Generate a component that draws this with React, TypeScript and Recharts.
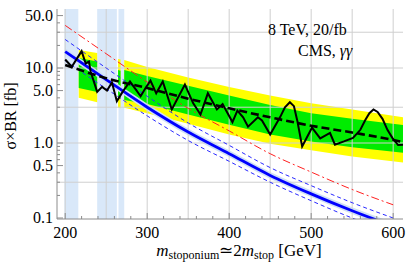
import React from 'react';
import { ComposedChart, XAxis, YAxis, Line, Area, ReferenceArea, ReferenceLine } from 'recharts';

// ---- axes / ticks ----
const xMajorTicks = [200, 300, 400, 500, 600];
const xAllTicks = [200, 220, 240, 260, 280, 300, 320, 340, 360, 380, 400, 420, 440, 460, 480, 500, 520, 540, 560, 580, 600];
const yMajorTicks = [0.1, 0.5, 1, 5, 10, 50];
const yMajorLabels = ['0.1', '0.5', '1.0', '5.0', '10.0', '50.0'];
const yAllTicks = [0.1, 0.2, 0.3, 0.4, 0.5, 0.6, 0.7, 0.8, 0.9, 1, 2, 3, 4, 5, 6, 7, 8, 9, 10, 20, 30, 40, 50];
const xGridValues = [200, 250, 300, 350, 400, 450, 500, 550, 600];
const yGridValues = [0.3, 1, 3, 10, 30];

// ---- excluded mass windows (light blue) ----
const excludedLo = [199, 239, 265];
const excludedHi = [216, 263, 272];

// ---- observed limit ----
const obsMass = [200, 208, 220, 225, 229, 231, 239, 245, 251, 257, 263, 270, 279, 286, 292, 298, 304, 311, 319, 330, 346, 356, 365, 374, 385, 392, 404, 410, 417, 423, 435, 440, 450, 462, 468, 474, 479, 483, 489, 501, 511, 523, 529, 540, 551, 560, 566, 571, 576, 581, 587, 593, 599, 606, 612];
const obsLimit = [13.0, 10.4, 16.8, 11.5, 12.2, 9.0, 4.8, 5.6, 5.0, 6.4, 3.6, 4.8, 6.6, 5.2, 4.2, 5.4, 6.8, 4.6, 6.6, 2.8, 6.0, 3.4, 2.4, 4.6, 2.8, 3.3, 1.9, 2.7, 2.2, 1.65, 2.2, 2.0, 1.3, 2.2, 3.0, 3.5, 3.1, 2.0, 0.9, 1.6, 1.15, 1.36, 0.95, 1.05, 1.17, 1.5, 2.03, 2.5, 2.8, 2.6, 2.1, 1.5, 1.17, 0.94, 0.95];

// ---- expected (median) limit ----
const expMass = [200, 250, 300, 350, 400, 450, 500, 550, 600, 612];
const expLimit = [11.0, 7.3, 5.4, 3.9, 2.9, 2.2, 1.7, 1.38, 1.1, 1.03];

// ---- expected bands, three segments ----
const seg1Mass = [216.5, 239];
const seg1YellowHi = [17.4, 15.9];
const seg1GreenHi = [13.6, 12.2];
const seg1GreenLo = [5.4, 4.8];
const seg1YellowLo = [4.0, 3.5];

const seg2Mass = [264.5, 267.5];
const seg2YellowHi = [13.2, 13.0];
const seg2GreenHi = [9.4, 9.2];
const seg2GreenLo = [4.0, 3.95];
const seg2YellowLo = [2.95, 2.9];

const seg3Mass = [272, 300, 350, 400, 450, 500, 550, 612];
const seg3YellowHi = [12.8, 10.3, 7.5, 5.6, 4.3, 3.4, 2.8, 2.2];
const seg3GreenHi = [9.4, 7.8, 5.8, 4.3, 3.2, 2.5, 2.1, 1.74];
const seg3GreenLo = [3.74, 3.3, 2.4, 1.75, 1.3, 1.05, 0.88, 0.74];
const seg3YellowLo = [2.95, 2.5, 1.8, 1.3, 0.98, 0.8, 0.66, 0.55];

// ---- theory predictions ----
const thMass = [200, 250, 300, 350, 400, 450, 500, 550, 600];
const thCentral = [16.5, 7.0, 3.0, 1.4, 0.72, 0.37, 0.21, 0.125, 0.078];
const thBandHi = [18.3, 7.8, 3.35, 1.56, 0.8, 0.41, 0.233, 0.139, 0.087];
const thBandLo = [14.8, 6.3, 2.7, 1.26, 0.65, 0.334, 0.19, 0.113, 0.07];
const thUpperDashed = [24, 10, 4.2, 1.85, 0.93, 0.47, 0.27, 0.16, 0.1];
const thLowerDashed = [12.5, 5.3, 2.3, 1.08, 0.57, 0.3, 0.17, 0.1, 0.063];
const thRed = [37, 15.5, 6.5, 2.9, 1.45, 0.72, 0.41, 0.24, 0.15];

// ---- tables built from the arrays ----
const obsData = obsMass.map((m, i) => ({ x: m, y: obsLimit[i] }));
const expData = expMass.map((m, i) => ({ x: m, y: expLimit[i] }));
const mkSeg = (mass: number[], yh: number[], gh: number[], gl: number[], yl: number[]) =>
  mass.map((m, i) => ({ x: m, yellow: [yl[i], yh[i]], green: [gl[i], gh[i]] }));
const seg1 = mkSeg(seg1Mass, seg1YellowHi, seg1GreenHi, seg1GreenLo, seg1YellowLo);
const seg2 = mkSeg(seg2Mass, seg2YellowHi, seg2GreenHi, seg2GreenLo, seg2YellowLo);
const seg3 = mkSeg(seg3Mass, seg3YellowHi, seg3GreenHi, seg3GreenLo, seg3YellowLo);
const thData = thMass.map((m, i) => ({
  x: m,
  c: thCentral[i],
  band: [thBandLo[i], thBandHi[i]],
  up: thUpperDashed[i],
  lo: thLowerDashed[i],
  red: thRed[i],
}));

const FRAME = '#8c8c8c';
const GRID = '#cfcfcf';
const FONT = "'Liberation Serif', 'Times New Roman', serif";
const LIGHTBLUE = '#d9e8f9';
const textStyle = { fontFamily: FONT };

const XTickBottom = (props: any) => {
  const { x, y, payload } = props;
  const major = xMajorTicks.includes(payload.value);
  return (
    <g>
      <line x1={x} x2={x} y1={y} y2={y - (major ? 6 : 3)} stroke={FRAME} />
      {major && (
        <text x={x} y={y + 19} textAnchor="middle" fontSize={16} style={textStyle} fill="#000">
          {payload.value}
        </text>
      )}
    </g>
  );
};
const XTickTop = (props: any) => {
  const { x, y, payload } = props;
  const major = xMajorTicks.includes(payload.value);
  return <line x1={x} x2={x} y1={y} y2={y + (major ? 6 : 3)} stroke={FRAME} />;
};
const YTickLeft = (props: any) => {
  const { x, y, payload } = props;
  const i = yMajorTicks.indexOf(payload.value);
  return (
    <g>
      <line x1={x} x2={x + (i >= 0 ? 6 : 3)} y1={y} y2={y} stroke={FRAME} />
      {i >= 0 && (
        <text x={x - 4} y={y + 5} textAnchor="end" fontSize={16} style={textStyle} fill="#000">
          {yMajorLabels[i]}
        </text>
      )}
    </g>
  );
};
const YTickRight = (props: any) => {
  const { x, y, payload } = props;
  const major = yMajorTicks.includes(payload.value);
  return <line x1={x} x2={x - (major ? 6 : 3)} y1={y} y2={y} stroke={FRAME} />;
};

export default function App() {
  return (
    <div style={{ position: 'relative', width: 407, height: 269, background: '#fff' }}>
      <style>{'body{margin:0;}'}</style>
      <ComposedChart width={407} height={269} margin={{ top: 9, right: 4, bottom: 0, left: 0 }}>
        <XAxis
          xAxisId="b"
          dataKey="x"
          type="number"
          domain={[190, 612]}
          allowDataOverflow
          ticks={xAllTicks}
          interval={0}
          tickSize={0}
          tickMargin={0}
          tick={<XTickBottom />}
          height={50}
          stroke={FRAME}
        />
        <XAxis
          xAxisId="t"
          orientation="top"
          dataKey="x"
          type="number"
          domain={[190, 612]}
          allowDataOverflow
          ticks={xAllTicks}
          interval={0}
          tickSize={0}
          tickMargin={0}
          tick={<XTickTop />}
          height={0}
          stroke={FRAME}
        />
        <YAxis
          yAxisId="l"
          type="number"
          scale="log"
          domain={[0.097, 61.2]}
          allowDataOverflow
          ticks={yAllTicks}
          interval={0}
          tickSize={0}
          tickMargin={0}
          tick={<YTickLeft />}
          width={57}
          stroke={FRAME}
        />
        <YAxis
          yAxisId="r"
          orientation="right"
          type="number"
          scale="log"
          domain={[0.097, 61.2]}
          allowDataOverflow
          ticks={yAllTicks}
          interval={0}
          tickSize={0}
          tickMargin={0}
          tick={<YTickRight />}
          width={0}
          stroke={FRAME}
        />

        {xGridValues.map((v) => (
          <ReferenceLine key={'gx' + v} xAxisId="b" yAxisId="l" x={v} stroke={GRID} strokeWidth={1} />
        ))}
        {yGridValues.map((v) => (
          <ReferenceLine key={'gy' + v} xAxisId="b" yAxisId="l" y={v} stroke={GRID} strokeWidth={1} />
        ))}
        {excludedLo.map((lo, i) => (
          <ReferenceArea
            key={'ex' + i}
            xAxisId="b"
            yAxisId="l"
            x1={lo}
            x2={excludedHi[i]}
            y1={0.097}
            y2={61.2}
            fill={LIGHTBLUE}
            fillOpacity={1}
            stroke="none"
          />
        ))}

        {[seg1, seg2, seg3].map((seg, i) => (
          <Area
            key={'y' + i}
            xAxisId="b"
            yAxisId="l"
            data={seg}
            dataKey="yellow"
            type="linear"
            fill="#ffff00"
            fillOpacity={1}
            stroke="none"
            isAnimationActive={false}
          />
        ))}
        {[seg1, seg2, seg3].map((seg, i) => (
          <Area
            key={'g' + i}
            xAxisId="b"
            yAxisId="l"
            data={seg}
            dataKey="green"
            type="linear"
            fill="#00ec00"
            fillOpacity={1}
            stroke="none"
            isAnimationActive={false}
          />
        ))}

        <Area
          xAxisId="b"
          yAxisId="l"
          data={thData}
          dataKey="band"
          type="monotone"
          fill="#cfe0f6"
          fillOpacity={1}
          stroke="none"
          isAnimationActive={false}
        />
        <Line xAxisId="b" yAxisId="l" data={thData} dataKey="up" type="monotone" stroke="#2a2aff" strokeWidth={1} strokeDasharray="4 3" dot={false} isAnimationActive={false} />
        <Line xAxisId="b" yAxisId="l" data={thData} dataKey="lo" type="monotone" stroke="#2a2aff" strokeWidth={1} strokeDasharray="4 3" dot={false} isAnimationActive={false} />
        <Line xAxisId="b" yAxisId="l" data={thData} dataKey="red" type="monotone" stroke="#ff2020" strokeWidth={1} strokeDasharray="8 3 2 3" dot={false} isAnimationActive={false} />
        <Line xAxisId="b" yAxisId="l" data={thData} dataKey="c" type="monotone" stroke="#0000ff" strokeWidth={2.8} dot={false} isAnimationActive={false} />

        <Line xAxisId="b" yAxisId="l" data={expData} dataKey="y" type="monotone" stroke="#000" strokeWidth={2.6} strokeDasharray="8 4" dot={false} isAnimationActive={false} />
        <Line xAxisId="b" yAxisId="l" data={obsData} dataKey="y" type="linear" stroke="#000" strokeWidth={2} dot={false} isAnimationActive={false} />
      </ComposedChart>

      <svg width={407} height={269} style={{ position: 'absolute', left: 0, top: 0, pointerEvents: 'none' }}>
        <text x={268} y={35} fontSize={16} style={textStyle} fill="#000">8 TeV, 20/fb</text>
        <text x={298} y={56} fontSize={16} style={textStyle} fill="#000">
          CMS, <tspan fontStyle="italic">γγ</tspan>
        </text>
        <text x={16} y={116} transform="rotate(-90 16 116)" textAnchor="middle" fontSize={16} style={textStyle} fill="#000">
          σ×BR [fb]
        </text>
        <text x={239} y={256} textAnchor="middle" fontSize={17} style={textStyle} fill="#000">
          <tspan fontStyle="italic">m</tspan>
          <tspan fontSize={12} dy={3}>stoponium</tspan>
          <tspan dy={-3}>≃2</tspan>
          <tspan fontStyle="italic">m</tspan>
          <tspan fontSize={12} dy={3}>stop</tspan>
          <tspan dy={-3}> [GeV]</tspan>
        </text>
      </svg>
    </div>
  );
}
